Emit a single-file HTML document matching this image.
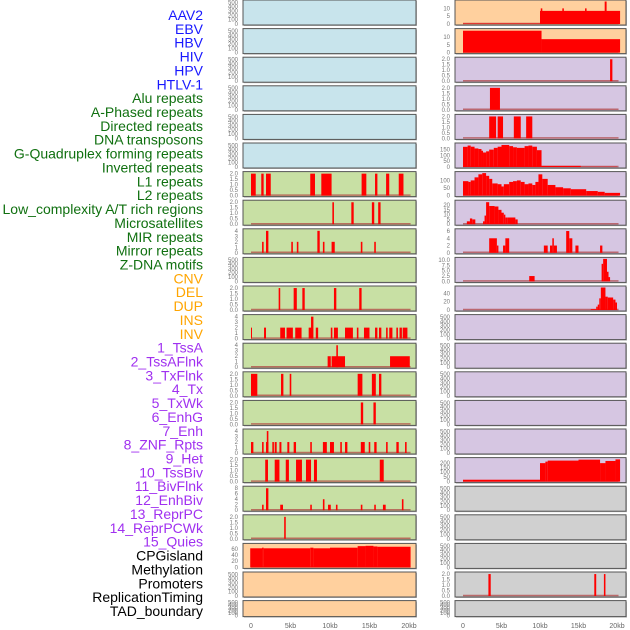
<!DOCTYPE html>
<html><head><meta charset="utf-8"><style>
html,body{margin:0;padding:0;background:#fff;}
svg{display:block;font-family:"Liberation Sans",sans-serif;}
</style></head><body>
<svg id="chart" width="630" height="630" viewBox="0 0 630 630" xmlns="http://www.w3.org/2000/svg"></svg>
<script>
// ---- track labels ----
const trackLabels = ["AAV2","EBV","HBV","HIV","HPV","HTLV-1","Alu repeats","A-Phased repeats","Directed repeats","DNA transposons","G-Quadruplex forming repeats","Inverted repeats","L1 repeats","L2 repeats","Low_complexity A/T rich regions","Microsatellites","MIR repeats","Mirror repeats","Z-DNA motifs","CNV","DEL","DUP","INS","INV","1_TssA","2_TssAFlnk","3_TxFlnk","4_Tx","5_TxWk","6_EnhG","7_Enh","8_ZNF_Rpts","9_Het","10_TssBiv","11_BivFlnk","12_EnhBiv","13_ReprPC","14_ReprPCWk","15_Quies","CPGisland","Methylation","Promoters","ReplicationTiming","TAD_boundary"];
const labelColors = ["#1818ff","#1818ff","#1818ff","#1818ff","#1818ff","#1818ff","#107010","#107010","#107010","#107010","#107010","#107010","#107010","#107010","#107010","#107010","#107010","#107010","#107010","#ffa500","#ffa500","#ffa500","#ffa500","#ffa500","#a030f0","#a030f0","#a030f0","#a030f0","#a030f0","#a030f0","#a030f0","#a030f0","#a030f0","#a030f0","#a030f0","#a030f0","#a030f0","#a030f0","#a030f0","#000","#000","#000","#000","#000"];

// ---- tick label sets ----
const ticks500 = [0,100,200,300,400,500];
const ticks2 = ["0.0","0.5","1.0","1.5","2.0"];
const ticks4 = [0,1,2,3,4];
const ticks8 = [0,2,4,6,8];
const ticks10 = [0,5,10];
const ticks150 = [0,50,100,150];
const ticks100 = [0,50,100];
const ticks20 = [0,5,10,15,20];
const ticks6 = [0,2,4,6];
const ticks10f = ["0.0","2.5","5.0","7.5","10.0"];
const ticks40 = [0,20,40];
const ticks200 = [0,50,100,150,200];
const ticks60 = [0,20,40,60];
const xTickLabels = ["0","5kb","10kb","15kb","20kb"];
const xTickValues = [0,5,10,15,20];

// ---- segment data [startKb, endKb, value] ----
const L6 = [[0,0.6,2],[1.3,1.6,2],[1.9,2.5,2],[7.5,8.1,2],[8.9,10.2,2],[14.0,14.6,2],[15.7,16.0,2],[17.1,17.5,2],[18.7,19.3,2]];
const L7 = [[10.3,10.5,2],[12.7,13.0,2],[15.3,15.6,2],[16.1,16.4,2]];
const L8 = [[1.4,1.6,2],[1.9,2.2,4],[5.1,5.3,2],[5.8,6.0,2],[8.4,8.7,4],[9.1,9.3,2],[10.2,10.6,2],[13.9,14.1,2],[15.6,15.8,2]];
const L10 = [[3.5,3.7,2],[5.4,5.8,2],[6.5,6.8,2],[10.5,10.8,2],[13.7,14.0,2]];
const L11 = [[0,0.1,2],[1.65,1.9,2],[3.7,4.3,2],[4.5,5.3,2],[5.6,6.4,2],[7.3,7.8,2],[7.6,7.9,4],[8.2,8.5,2],[10.1,10.3,2],[10.5,11.0,2],[11.9,12.9,2],[13.4,13.6,2],[14.3,15.0,2],[15.7,16.0,2],[16.2,16.5,2],[17.1,17.3,2],[17.5,17.9,2],[18.4,18.6,2],[18.8,19.1,2],[19.2,19.8,2]];
const L12 = [[9.7,10.1,2],[10.2,11.9,2],[10.8,11.0,4],[17.6,20.1,2]];
const L13 = [[0,0.8,2],[3.8,4.1,2],[4.9,5.1,2],[13.5,14.1,2],[15.3,15.8,2],[16.2,16.5,2]];
const L14 = [[13.9,14.2,2],[15.5,15.8,2]];
const L15 = [[0,0.3,2],[1.4,1.6,2],[1.9,2.2,2],[2.0,2.2,4],[2.7,2.9,2],[3.0,3.25,2],[3.6,3.85,2],[4.6,4.85,2],[5.4,5.7,2],[7.5,7.7,2],[9.1,9.6,2],[10.0,10.5,2],[11.3,11.5,2],[11.9,12.2,2],[13.9,14.4,2],[14.9,15.1,2],[15.6,15.9,2],[17.1,17.3,2],[18.4,18.7,2],[19.5,19.7,2]];
const L16 = [[1.8,2.15,2],[3.0,3.6,2],[4.4,4.8,2],[5.7,6.45,2],[6.96,7.6,2],[7.97,8.35,2],[16.3,16.8,2]];
const L17 = [[1.4,1.6,2],[1.9,2.2,8],[3.7,4.05,2],[7.5,7.7,2],[9.1,9.3,4],[9.75,10.1,2],[10.75,10.95,2],[13.9,14.1,2],[15.6,15.8,2],[16.7,17.05,2],[19.1,19.3,4]];
const L18 = [[4.2,4.4,2]];
const L19 = [[-0.1,1.4,62],[1.4,1.6,64],[1.6,7.5,62],[7.5,7.9,64],[7.9,10.0,62],[10.0,13.5,64],[13.5,14.5,69],[14.5,15.5,70],[15.5,16.0,68],[16.0,20.2,67]];
const R0 = [[0,10.0,0.3],[10.0,20.4,8.4],[10.1,10.3,10],[12.9,13.1,10],[15.85,16.05,10],[18.4,18.65,14.4]];
const R1 = [[0,10.2,14],[10.2,20.4,8.6]];
const R2 = [[19.1,19.4,2]];
const R3 = [[3.5,4.8,2]];
const R4 = [[3.4,4.3,2],[4.5,5.2,2],[6.6,7.5,2],[8.2,9.0,2]];
const R5 = [[0,0.6,174],[0.6,1,185],[1,1.5,175],[1.5,2,160],[2,2.4,155],[2.4,2.6,140],[2.6,3,125],[3,3.4,135],[3.4,4,150],[4,4.5,165],[4.5,5,175],[5,6,190],[6,6.5,180],[6.5,7,170],[7,8,165],[8,8.5,180],[8.5,9,185],[9,9.6,175],[9.6,10.2,145],[10.2,15.3,10],[15.3,20,2]];
const R6 = [[0,0.7,95],[0.7,1,90],[1,1.5,100],[1.5,2,120],[2,2.5,140],[2.5,3,148],[3,3.4,130],[3.4,3.8,110],[3.8,4.5,80],[4.5,5,75],[5,5.3,60],[5.3,6,75],[6,6.5,90],[6.5,7,95],[7,7.5,100],[7.5,8,90],[8,8.5,75],[8.5,9,80],[9,9.4,70],[9.4,9.8,90],[9.8,10.3,140],[10.3,11,110],[11,12,70],[12,13,55],[13,14,48],[14,16,42],[16,17.5,30],[17.5,18.4,25],[18.4,20.4,18]];
const R7 = [[0.5,0.9,3],[0.9,1.2,6],[1.2,1.6,5],[2.6,2.8,3],[2.8,3.0,9],[3.0,3.4,23],[3.4,4.1,19],[4.1,4.6,18.5],[4.6,5,15],[5,5.3,12],[5.3,5.5,10],[5.5,5.8,7],[5.8,6.8,7],[6.8,7.1,5]];
const R8 = [[3.4,4.4,4],[4.4,4.6,2],[5.2,5.5,2],[5.5,6.0,4],[10.5,11.0,2],[11.3,11.6,2],[11.6,11.8,4],[11.8,12.2,2],[13.4,13.8,6],[13.8,14.2,4],[14.6,15.0,2],[17.8,18.1,2]];
const R9 = [[8.6,9.3,2.5],[18.0,18.2,8.2],[18.2,18.7,10.5],[18.7,18.9,4.5],[18.9,19.1,2]];
const R10 = [[16.6,17.3,2],[17.3,17.5,8],[17.5,17.7,13],[17.7,17.9,28],[17.9,18.5,54],[18.5,18.8,32],[18.8,19.5,30],[19.5,19.8,25],[19.8,20.0,18]];
const R16 = [[0,10.0,20],[10.0,10.7,197],[10.7,11.0,213],[11.0,15.0,224],[15.0,17.8,234],[17.8,18.5,197],[18.5,19.8,220],[19.8,20.4,237]];
const R20 = [[3.3,3.6,2],[17.05,17.3,2],[18.3,18.5,2]];

// colours per panel
const C_BLUE="#c8e4ec", C_GREEN="#c8e0a4", C_ORANGE="#ffd09e", C_PURPLE="#d6c6e2", C_GRAY="#d0d0d0";
const leftPanels = [
 [null,520,ticks500,C_BLUE],[null,520,ticks500,C_BLUE],[null,520,ticks500,C_BLUE],[null,520,ticks500,C_BLUE],[null,520,ticks500,C_BLUE],[null,520,ticks500,C_BLUE],
 [L6,2.05,ticks2,C_GREEN],[L7,2.05,ticks2,C_GREEN],[L8,4.1,ticks4,C_GREEN],[null,520,ticks500,C_GREEN],[L10,2.05,ticks2,C_GREEN],[L11,4.1,ticks4,C_GREEN],[L12,4.1,ticks4,C_GREEN],
 [L13,2.05,ticks2,C_GREEN],[L14,2.05,ticks2,C_GREEN],[L15,4.1,ticks4,C_GREEN],[L16,2.05,ticks2,C_GREEN],[L17,8.2,ticks8,C_GREEN],[L18,2.05,ticks2,C_GREEN],
 [L19,73,ticks60,C_ORANGE],[null,520,ticks500,C_ORANGE],[null,520,ticks500,C_ORANGE]];
const rightPanels = [
 [R0,14.4,ticks10,C_ORANGE],[R1,14.4,ticks10,C_ORANGE],
 [R2,2.05,ticks2,C_PURPLE],[R3,2.05,ticks2,C_PURPLE],[R4,2.05,ticks2,C_PURPLE],[R5,194,ticks150,C_PURPLE],[R6,148,ticks100,C_PURPLE],[R7,23.5,ticks20,C_PURPLE],[R8,6.2,ticks6,C_PURPLE],[R9,10.5,ticks10f,C_PURPLE],[R10,54,ticks40,C_PURPLE],
 [null,520,ticks500,C_PURPLE],[null,520,ticks500,C_PURPLE],[null,520,ticks500,C_PURPLE],[null,520,ticks500,C_PURPLE],[null,520,ticks500,C_PURPLE],[R16,240,ticks200,C_PURPLE],
 [null,520,ticks500,C_GRAY],[null,520,ticks500,C_GRAY],[null,520,ticks500,C_GRAY],[R20,2.05,ticks2,C_GRAY],[null,520,ticks500,C_GRAY]];

const svg = document.getElementById('chart');
const NS = "http://www.w3.org/2000/svg";
function mk(tag, attrs, parent){
  const e = document.createElementNS(NS, tag);
  for (const k in attrs) e.setAttribute(k, attrs[k]);
  (parent||svg).appendChild(e);
  return e;
}
// track labels
trackLabels.forEach((t,i)=>{
  const e = mk('text',{x:203,y:15+13.86*i+5,'text-anchor':'end','font-size':14,fill:labelColors[i]});
  
  
  e.textContent = t;
});
const cols = [
  {x0:243,x1:416,z:251,s:7.9,panels:leftPanels,tx:238,name:'left'},
  {x0:455,x1:626,z:463,s:7.7,panels:rightPanels,tx:450,name:'right'}];
function rowTop(i){return 28.6*i;}
cols.forEach(col=>{
  const xs = kb=>col.z+kb*col.s;
  col.panels.forEach((p,i)=>{
    const [segs,ymax,ticks,bg]=p;
    const top=rowTop(i), h=(i===21?16:25);
    const g = mk('g',{});
    
    
    mk('rect',{x:col.x0+1,y:top+1,width:col.x1-col.x0,height:h,fill:'#bbb'},g);
    mk('rect',{x:col.x0,y:top,width:col.x1-col.x0,height:h,fill:bg,stroke:'#555','stroke-width':1},g);
    const yb=top+h-1, yt=top+1.5;
    const ys = v=>yb-(v/ymax)*(yb-yt);
    ticks.forEach(tk=>{
      const v=parseFloat(tk);
      const t=mk('text',{x:col.tx,y:ys(v)+2,'text-anchor':'end','font-size':6,fill:'#777'},g);
      t.textContent=tk;
    });
    if(segs){
      mk('line',{x1:xs(0),x2:xs(20.2),y1:yb-0.5,y2:yb-0.5,stroke:'#b04040','stroke-width':1.5,opacity:0.7},g);
      segs.forEach(sg=>{
        const r=mk('rect',{x:xs(sg[0]),y:ys(sg[2]),width:Math.max(1,xs(sg[1])-xs(sg[0])),height:yb-ys(sg[2]),fill:'#ff0000'},g);
        
        
      });
    }
  });
  xTickValues.forEach((v,k)=>{
    const t=mk('text',{x:xs(v),y:628,'text-anchor':'middle','font-size':7,fill:'#666'});
    
    
    t.textContent=xTickLabels[k];
  });
});
</script>
</body></html>
